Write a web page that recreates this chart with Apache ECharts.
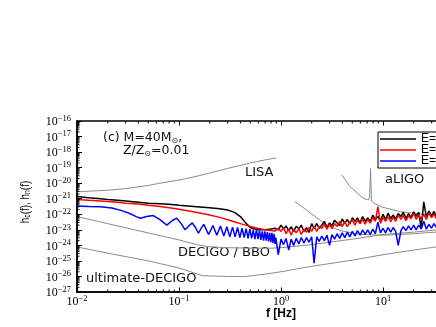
<!DOCTYPE html>
<html><head><meta charset="utf-8">
<script src="https://cdn.jsdelivr.net/npm/echarts@6/dist/echarts.min.js"></script>
<style>html,body{margin:0;padding:0;background:#fff}#c{width:436px;height:327px}</style>
</head><body><div id="c"></div>
<script>
// ---------- data ----------
const freqSmooth = [0.01,0.013,0.017,0.02,0.025,0.03,0.04,0.05,0.065,0.08,0.1,0.13,0.16,0.2,0.25,0.3,0.35,0.4,0.45,0.5,0.55,0.6,0.7,0.8,0.87];
const blackSmooth = [1.41e-21,1.17e-21,1.0e-21,8.9e-22,7.9e-22,7.1e-22,6.0e-22,5.2e-22,4.8e-22,4.4e-22,3.8e-22,3.3e-22,2.95e-22,2.6e-22,2.24e-22,1.86e-22,1.32e-22,7.1e-23,2.8e-23,1.41e-23,1.12e-23,1.0e-23,1.0e-23,1.12e-23,1.26e-23];
const redSmooth = [8.9e-22,7.9e-22,7.1e-22,6.6e-22,5.9e-22,5.2e-22,4.5e-22,3.8e-22,3.16e-22,2.6e-22,2.1e-22,1.58e-22,1.2e-22,8.9e-23,6.3e-23,4.5e-23,3.3e-23,2.5e-23,2.0e-23,1.66e-23,1.41e-23,1.2e-23,1.0e-23,8.9e-24,8.3e-24];
const freqBlueSmooth = [0.01,0.013,0.017,0.022,0.027,0.033,0.038,0.042,0.048,0.056,0.065,0.076,0.086,0.095,0.105,0.115,0.125,0.135,0.145,0.155,0.165,0.175,0.195,0.215,0.235,0.255,0.275,0.295,0.315,0.335,0.355,0.375,0.395,0.415,0.435,0.455,0.475,0.495,0.515,0.535,0.555,0.575,0.595,0.615,0.635,0.655,0.675,0.695,0.715,0.735,0.755,0.775,0.795,0.815,0.835,0.855,0.875];
const blueSmooth = [3.4e-22,3.16e-22,3.0e-22,2.5e-22,1.78e-22,1.12e-22,7.1e-23,5.6e-23,7.1e-23,8.3e-23,4.5e-23,2.0e-23,4.0e-23,5.6e-23,2.5e-23,1.0e-23,1.78e-23,2.8e-23,1.41e-23,6.0e-24,1.26e-23,2.24e-23,5.0e-24,1.9e-23,4.5e-24,1.78e-23,4.0e-24,1.58e-23,3.5e-24,1.5e-23,3.5e-24,1.41e-23,3.16e-24,1.26e-23,3.16e-24,1.2e-23,2.8e-24,1.12e-23,2.8e-24,1.0e-23,2.5e-24,1.0e-23,2.5e-24,8.9e-24,2.24e-24,7.9e-24,2.0e-24,7.9e-24,2.0e-24,7.1e-24,1.78e-24,6.3e-24,1.58e-24,6.3e-24,1.41e-24,5.6e-24,1.26e-24];
const freqNoisy = [0.89,0.94,1.0,1.06,1.12,1.19,1.26,1.33,1.41,1.5,1.58,1.68,1.78,1.88,2.0,2.11,2.24,2.37,2.51,2.66,2.82,2.99,3.16,3.35,3.55,3.76,3.98,4.22,4.47,4.73,5.01,5.31,5.62,5.96,6.31,6.68,7.08,7.5,7.94,8.41,8.91,9.44,10,10.6,11.2,11.9,12.6,13.3,14.1,15.0,15.8,16.8,17.8,18.8,20.0,21.1,22.4,23.7,25.1,26.6,28.2,29.9,31.6,33.5,35.5,37.6,39.8];
const blackNoisy = [1.58e-23,1.0e-23,2.0e-23,1.12e-23,1.78e-23,8.9e-24,1.58e-23,7.6e-24,1.7e-23,1.2e-23,2.0e-23,7.9e-24,1.35e-23,6.8e-24,2.5e-23,1.26e-23,2.5e-23,1.26e-23,2.0e-23,3.5e-23,1.32e-23,2.8e-23,1.78e-23,4.2e-23,2.75e-23,1.86e-23,5.0e-23,2.6e-23,4.6e-23,2.4e-23,6.0e-23,3.5e-23,5.9e-23,2.8e-23,7.1e-23,3.6e-23,5.9e-23,3.4e-23,8.7e-23,4.5e-23,7.2e-23,3.8e-23,1.0e-22,4.6e-23,1.17e-22,5.4e-23,8.9e-23,5.0e-23,1.12e-22,7.2e-23,1.32e-22,5.4e-23,1.1e-22,6.3e-23,1.45e-22,7.4e-23,1.35e-22,1.26e-23,6.3e-22,7.1e-23,1.62e-22,8.3e-23,1.51e-22,6.8e-23,1.38e-22,8.3e-23,1.58e-22];
const redNoisy = [7.1e-24,1.26e-23,7.9e-24,1.41e-23,5.6e-24,1.12e-23,4.5e-24,1.12e-23,6.3e-24,1.26e-23,5.0e-24,1.0e-23,7.1e-24,1.41e-23,7.9e-24,1.66e-23,7.9e-24,1.66e-23,1.23e-23,2.3e-23,1.1e-23,2.3e-23,1.2e-23,2.5e-23,1.66e-23,3.5e-23,1.62e-23,3.4e-23,1.58e-23,2.95e-23,4.4e-23,2.0e-23,4.2e-23,2.5e-23,5.0e-23,2.3e-23,4.7e-23,2.7e-23,6.2e-23,3.5e-23,3.16e-22,2.6e-23,6.2e-23,3.5e-23,7.2e-23,3.4e-23,6.3e-23,3.5e-23,9.1e-23,4.7e-23,8.5e-23,3.9e-23,7.9e-23,5.1e-23,1.17e-22,4.8e-23,8.7e-23,5.0e-23,1.02e-22,4.7e-23,1.2e-22,6.2e-23,1.0e-22,5.1e-23,1.32e-22,6.8e-23,1.26e-22];
const blueNoisy = [3.16e-24,2.5e-25,2.5e-24,1.12e-24,2.8e-24,5.0e-25,2.5e-24,1.0e-24,2.8e-24,1.26e-24,3.16e-24,1.41e-24,3.16e-24,1.58e-24,3.5e-24,7.1e-26,3.5e-24,1.78e-24,4.0e-24,2.0e-24,4.5e-24,1.0e-24,5.0e-24,2.5e-24,5.6e-24,2.8e-24,6.3e-24,3.16e-24,7.1e-24,3.5e-24,7.9e-24,4.0e-24,8.9e-24,4.5e-24,1.0e-23,5.0e-24,1.0e-23,5.0e-24,1.12e-23,5.6e-24,3.16e-23,6.3e-24,1.26e-23,6.3e-24,1.41e-23,7.1e-24,1.41e-23,7.9e-24,1.0e-24,8.9e-24,1.58e-23,8.9e-24,1.78e-23,1.0e-23,2.0e-23,1.0e-23,2.0e-23,1.12e-23,3.5e-23,1.12e-23,2.24e-23,1.26e-23,2.5e-23,1.41e-23,2.8e-23,1.41e-23,2.8e-23];

const freqLISA = [0.01,0.02,0.03,0.05,0.065,0.1,0.15,0.2,0.3,0.5,0.7,0.9];
const lisa = [2.8e-21,3.5e-21,4.5e-21,7.1e-21,1.0e-20,1.58e-20,2.8e-20,4.5e-20,8.9e-20,2.0e-19,3.16e-19,4.2e-19];
const freqDECIGO = [0.01,0.02,0.05,0.1,0.15,0.19,0.3,0.5,0.8,1.0,2,5,10,20,50,100];
const decigo = [7.1e-23,2.5e-23,6.3e-24,2.24e-24,1.12e-24,8.3e-25,7.1e-25,6.6e-25,6.6e-25,7.1e-25,1.12e-24,2.5e-24,5.0e-24,7.1e-24,1.26e-23,2.5e-23];
const freqUltimate = [0.01,0.02,0.05,0.1,0.17,0.3,0.45,0.7,1,2,5,10,20,35,100];
const ultimate = [7.9e-25,3.16e-25,1.0e-25,3.5e-26,1.12e-26,1.0e-26,1.0e-26,1.41e-26,2.0e-26,4.5e-26,1.12e-25,2.5e-25,5.0e-25,8.3e-25,2.5e-24];
const freqET = [1.37,1.6,2.06,2.83,3.8,6,10,20,40,100];
const et = [6.5e-22,3.16e-22,8.9e-23,2.0e-23,8.9e-24,5.0e-24,4.5e-24,5.6e-24,7.9e-24,1.58e-23];
const freqLIGO = [3.94,4.75,6.4,7.2,7.4,7.55,7.7,8.17,10,14.7,25,50,100];
const ligo = [3.4e-20,6.0e-21,1.07e-21,8.3e-22,1.3e-21,9.1e-20,7.0e-22,5.1e-22,2.8e-22,1.48e-22,1.0e-22,7.9e-23,7.9e-23];

const legendNames = ['E=10\u2075\u00b9 erg','E=10\u2075\u2070 erg','E=10\u2074\u2079 erg'];
const xMajorExp = [-2,-1,0,1,2];            // tick labels 10^-2 ... 10^2
const yMajorExp = [-27,-26,-25,-24,-23,-22,-21,-20,-19,-18,-17,-16];
const minorMantissa = [2,3,4,5,6,7,8,9];

// ---------- build ----------
const zip = (xs, ys) => xs.map((x, i) => [x, ys[i]]);
const minorVals = exps => { const out = []; exps.slice(0, -1).forEach(e => minorMantissa.forEach(m => out.push(m * Math.pow(10, e)))); return out; };
const xMinor = minorVals(xMajorExp), yMinor = minorVals(yMajorExp);
const X0 = Math.pow(10, xMajorExp[0]), X1 = Math.pow(10, xMajorExp[xMajorExp.length - 1]);
const Y0 = Math.pow(10, yMajorExp[0]), Y1 = Math.pow(10, yMajorExp[yMajorExp.length - 1]);

const expFmt = v => '{b|10}{s|' + (v < 0 ? '\u2212' : '') + Math.abs(Math.round(v)) + '}';
const SERIF = '"Liberation Serif", serif', SANS = '"Liberation Sans", Arial, sans-serif', DJ = '"DejaVu Sans", sans-serif';
const richLab = {
  b: {fontFamily: SERIF, fontSize: 12, color: '#000', lineHeight: 14, verticalAlign: 'bottom'},
  s: {fontFamily: SERIF, fontSize: 8.5, color: '#000', lineHeight: 9, verticalAlign: 'top'}
};
const AX = '#000';
const gray = '#8a8a8a';

const lineSeries = (name, data, color, width, z) => ({
  name, type: 'line', data, symbol: 'none', smooth: false, z: z || 2,
  lineStyle: {color, width}, itemStyle: {color}, animation: false, silent: true
});
const minorTickSeries = (vals, dir) => ({
  type: 'custom', silent: true, z: 20, clip: false, animation: false,
  data: dir === 'x' ? vals.map(v => [v, Y0]) : vals.map(v => [X0, v]),
  renderItem: (params, api) => {
    const st = {stroke: '#000', lineWidth: 1};
    if (dir === 'x') {
      const b = api.coord([api.value(0), Y0]), t = api.coord([api.value(0), Y1]);
      return {type: 'group', children: [
        {type: 'line', shape: {x1: b[0], y1: b[1], x2: b[0], y2: b[1] - 2.5}, style: st},
        {type: 'line', shape: {x1: t[0], y1: t[1], x2: t[0], y2: t[1] + 2.5}, style: st}]};
    }
    const l = api.coord([X0, api.value(1)]);
    return {type: 'line', shape: {x1: l[0], y1: l[1], x2: l[0] + 2.5, y2: l[1]}, style: st};
  }
});

const chart = echarts.init(document.getElementById('c'));
chart.setOption({
  animation: false,
  grid: {left: 77, top: 121, right: -49, bottom: 35, outerBoundsMode: 'none', containLabel: false,
         show: true, borderColor: AX, borderWidth: 1.5, backgroundColor: 'transparent'},
  xAxis: [
    {type: 'log', logBase: 10, min: X0, max: X1, position: 'bottom',
     axisLine: {onZero: false, lineStyle: {color: AX, width: 1.5}},
     axisTick: {show: false}, axisLabel: {show: false}, splitLine: {show: false}},
    {type: 'value', min: xMajorExp[0], max: xMajorExp[xMajorExp.length - 1], interval: 1, position: 'bottom',
     axisLine: {show: false, onZero: false}, splitLine: {show: false},
     axisTick: {inside: true, length: 4.5, lineStyle: {color: AX, width: 1}},
     axisLabel: {formatter: expFmt, rich: richLab, margin: 2},
     name: 'f [Hz]', nameLocation: 'middle', nameGap: 16, nameMoveOverlap: false,
     nameTextStyle: {fontFamily: SANS, fontSize: 12, fontWeight: 'bold', color: '#000'}},
    {type: 'value', min: xMajorExp[0], max: xMajorExp[xMajorExp.length - 1], interval: 1, position: 'top',
     axisLine: {show: false, onZero: false}, splitLine: {show: false}, axisLabel: {show: false},
     axisTick: {inside: true, length: 4.5, lineStyle: {color: AX, width: 1}}}
  ],
  yAxis: [
    {type: 'log', logBase: 10, min: Y0, max: Y1, position: 'left',
     axisLine: {onZero: false, lineStyle: {color: AX, width: 1.5}},
     axisTick: {show: false}, axisLabel: {show: false}, splitLine: {show: false}},
    {type: 'value', min: yMajorExp[0], max: yMajorExp[yMajorExp.length - 1], interval: 1, position: 'left',
     axisLine: {show: false, onZero: false}, splitLine: {show: false},
     axisTick: {inside: true, length: 5, lineStyle: {color: AX, width: 1}},
     axisLabel: {formatter: expFmt, rich: richLab, margin: 6}}
  ],
  legend: {
    left: 378, top: 132, orient: 'vertical', icon: 'rect', itemWidth: 36, itemHeight: 1.5, itemGap: -1,
    borderColor: '#000', borderWidth: 1, padding: [1, 4, 1, 2], backgroundColor: '#fff',
    textStyle: {fontFamily: SANS, fontSize: 12, color: '#000', lineHeight: 12},
    data: legendNames
  },
  graphic: [
    {type: 'text', x: 25, y: 202, rotation: Math.PI / 2, scaleX: 0.76,
     style: {text: 'h{s|c}(f), h{s|n}(f)', font: '13px ' + SANS, fill: '#000', align: 'center', verticalAlign: 'middle',
       rich: {s: {fontFamily: SANS, fontSize: 9, fill: '#000', verticalAlign: 'bottom', lineHeight: 15}}}},
    {type: 'text', left: 103, top: 131, style: {text: '(c) M=40M{s|\u2299},', font: '12.5px ' + DJ, fill: '#111',
      rich: {s: {fontSize: 8, fontFamily: DJ, verticalAlign: 'bottom', lineHeight: 14}}}},
    {type: 'text', left: 123, top: 144, style: {text: 'Z/Z{s|\u2299}=0.01', font: '12.5px ' + DJ, fill: '#111',
      rich: {s: {fontSize: 8, fontFamily: DJ, verticalAlign: 'bottom', lineHeight: 14}}}},
    {type: 'text', left: 245, top: 166, style: {text: 'LISA', font: '13px ' + DJ, fill: '#111'}},
    {type: 'text', left: 385, top: 173, style: {text: 'aLIGO', font: '13px ' + DJ, fill: '#111'}},
    {type: 'text', left: 178, top: 246, style: {text: 'DECIGO / BBO', font: '13px ' + DJ, fill: '#111'}},
    {type: 'text', left: 86, top: 272, style: {text: 'ultimate-DECIGO', font: '13px ' + DJ, fill: '#111'}}
  ],
  series: [
    lineSeries('LISA', zip(freqLISA, lisa), gray, 1, 1),
    lineSeries('DECIGO', zip(freqDECIGO, decigo), gray, 1, 1),
    lineSeries('ultimate', zip(freqUltimate, ultimate), gray, 1, 1),
    lineSeries('ET', zip(freqET, et), gray, 1, 1),
    lineSeries('aLIGO', zip(freqLIGO, ligo), gray, 1, 1),
    lineSeries(legendNames[0], zip(freqSmooth.concat(freqNoisy), blackSmooth.concat(blackNoisy)), '#000', 1.5, 3),
    lineSeries(legendNames[1], zip(freqSmooth.concat(freqNoisy), redSmooth.concat(redNoisy)), '#ff0000', 1.5, 4),
    lineSeries(legendNames[2], zip(freqBlueSmooth.concat(freqNoisy), blueSmooth.concat(blueNoisy)), '#0000ff', 1.5, 5),
    minorTickSeries(xMinor, 'x'),
    minorTickSeries(yMinor, 'y')
  ]
});
</script></body></html>
